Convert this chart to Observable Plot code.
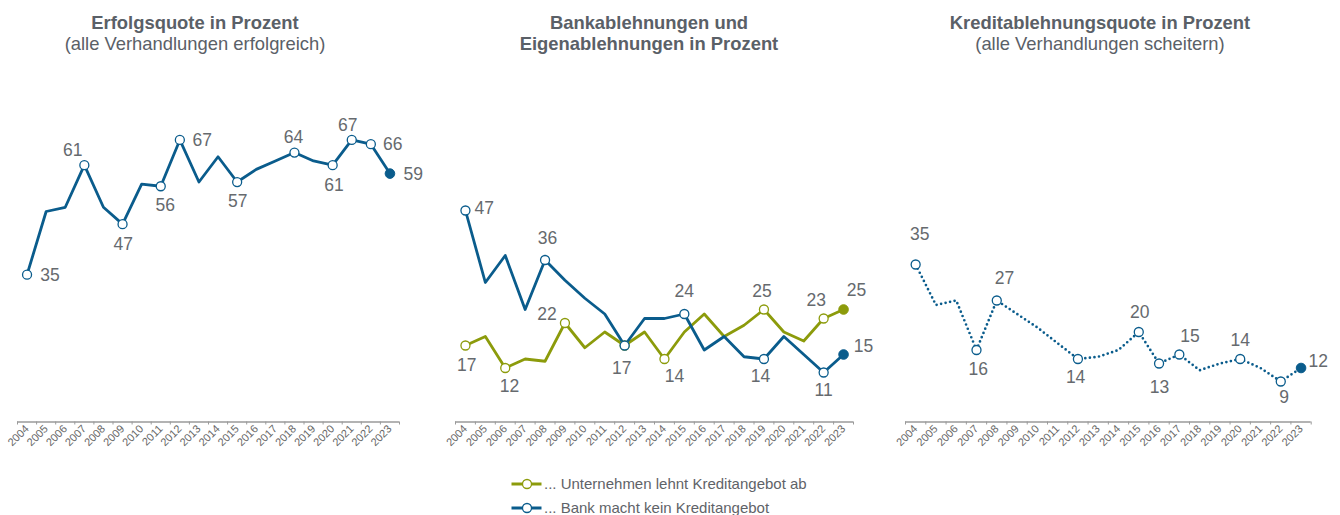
<!DOCTYPE html>
<html>
<head>
<meta charset="utf-8">
<script src="https://cdn.jsdelivr.net/npm/d3@7"></script>
<script src="https://cdn.jsdelivr.net/npm/@observablehq/plot@0.6"></script>
<style>
  body { margin: 0; background: #fff; font-family: "Liberation Sans", Arial, sans-serif; }
  #wrap { position: relative; width: 1340px; height: 515px; overflow: hidden; background: #fff; }
  .title { position: absolute; top: 12.4px; text-align: center; color: #5a6067; font-size: 18.4px; line-height: 21px; white-space: nowrap; transform: translateX(-50%); }
  .title b { font-weight: bold; }
  .panel { position: absolute; top: 0; }
  .legend { position: absolute; left: 511px; font-size: 15px; line-height: 16px; color: #5f6368; }
  .legend .row { position: absolute; left: 0; height: 16px; display: flex; align-items: center; white-space: nowrap; }
  .legend svg { display: block; margin-right: 2px; }
</style>
</head>
<body>
<div id="wrap">
  <div class="title" style="left:195px"><b>Erfolgsquote in Prozent</b><br>(alle Verhandlungen erfolgreich)</div>
  <div class="title" style="left:649px"><b>Bankablehnungen und<br>Eigenablehnungen in Prozent</b></div>
  <div class="title" style="left:1100px"><b>Kreditablehnungsquote in Prozent</b><br>(alle Verhandlungen scheitern)</div>
  <div class="panel" id="p1" style="left:0px"></div>
  <div class="panel" id="p2" style="left:440px"></div>
  <div class="panel" id="p3" style="left:890px"></div>
  <div class="legend" id="legend"></div>
</div>
<script>
// ---- data ----
const years = [2004,2005,2006,2007,2008,2009,2010,2011,2012,2013,2014,2015,2016,2017,2018,2019,2020,2021,2022,2023];

const erfolgsquote       = [35,50,51,61,51,47,56.5,56,67,57,63,57,60,62,64,62,61,67,66,59];
const unternehmenLehntAb = [17,19,12,14,13.5,22,16.5,20,17,20,14,20,24,19,21.5,25,20,18,23,25];
const bankKeinAngebot    = [47,31,37,25,36,31.5,27.5,24,17,23,23,24,16,19,14.5,14,19,15,11,15];
const ablehnungsquote    = [35,26,27,16,27,24,21,17.5,14,14.5,16,20,13,15,11.5,13,14,12,9,12];

const legendLabels = ["... Unternehmen lehnt Kreditangebot ab", "... Bank macht kein Kreditangebot"];

// labelled (marked) years per series, with label offsets [year, dx, dy]
const erfolgsLabels = [[2004,23,1],[2007,-11.5,-15],[2009,0.6,20.5],[2011,4.5,19.3],[2012,22.5,0.4],[2015,0.5,19.7],[2018,-1,-15.3],[2020,1.3,20],[2021,-4,-14.3],[2022,22,0],[2023,23.3,1]];
const bankLabels    = [[2004,18.8,-1.7],[2008,2.5,-21.3],[2012,-2.8,23.3],[2015,0,-22.7],[2019,-3.5,17.7],[2022,0,18],[2023,20,-8]];
const unternLabels  = [[2004,1.2,20],[2006,4.2,18.4],[2009,-18,-8.3],[2012,null,null],[2014,10,17.3],[2019,-2,-18.5],[2022,-7.3,-18],[2023,13,-19]];
const ablehnLabels  = [[2004,4.2,-29.7],[2007,1.8,19.3],[2008,7.7,-21.7],[2012,-2.3,18.7],[2015,1,-19.3],[2016,0.5,23.7],[2017,10.7,-18.2],[2020,0,-18.3],[2022,3.3,15.7],[2023,17.3,-6.3]];

const BLUE = "#0a5c8c";
const GREEN = "#8c9b0b";
const LABEL = "#666a6e";
const AXIS = "#9a9a9a";

function buildPanel(cfg) {
  const last = years[years.length - 1];
  const edges = years.map(y => y - 0.5).concat([last + 0.5]);
  const marks = [
    Plot.ruleY([0], {stroke: AXIS, strokeWidth: 1.3}),
    Plot.axisX(edges, {tickSize: 3, tickFormat: () => "", stroke: AXIS, label: null}),
    Plot.axisX(years, {tickSize: 0, tickRotate: -45, tickPadding: 5, tickFormat: d => String(d), fontSize: 11, fill: "#666", label: null})
  ];
  const sets = cfg.series.map(s => ({s, data: years.map((year, i) => ({year, value: s.values[i]}))}));
  for (const {s, data} of sets) {
    const opts = {x: "year", y: "value", stroke: s.color, strokeWidth: 2.8, strokeLinejoin: "round"};
    if (s.dotted) { opts.strokeDasharray = "0 4.6"; opts.strokeLinecap = "round"; opts.strokeWidth = 2.7; }
    marks.push(Plot.line(data, opts));
  }
  for (const {s, data} of sets) {
    const markedYears = s.labels.map(l => l[0]);
    const open = data.filter(d => markedYears.includes(d.year) && d.year !== last);
    const fin = data.filter(d => d.year === last);
    marks.push(Plot.dot(open, {x: "year", y: "value", r: 4.5, fill: "white", stroke: s.color, strokeWidth: 1.3}));
    marks.push(Plot.dot(fin, {x: "year", y: "value", r: 4.8, fill: s.color, stroke: s.color, strokeWidth: 1}));
    for (const [year, dx, dy] of s.labels) {
      if (dx === null) continue;
      marks.push(Plot.text(data.filter(d => d.year === year), {x: "year", y: "value", text: d => String(d.value),
        dx, dy, fontSize: 17.5, fill: LABEL, textAnchor: "middle"}));
    }
  }
  return Plot.plot({
    width: cfg.width, height: 470,
    marginLeft: cfg.ml, marginRight: cfg.mr, marginTop: 0, marginBottom: 48.5,
    x: {type: "linear", domain: [2003.5, 2023.5], label: null},
    y: {domain: [0, 100], range: [421.5, 421.5 - cfg.slope * 100], axis: null},
    style: {fontFamily: "Liberation Sans, Arial, sans-serif", background: "transparent", overflow: "visible"},
    marks
  });
}

document.getElementById("p1").append(buildPanel({width: 440, ml: 17, mr: 41, slope: 4.21,
  series: [{values: erfolgsquote, color: BLUE, labels: erfolgsLabels}]}));
document.getElementById("p2").append(buildPanel({width: 450, ml: 15, mr: 37, slope: 4.5,
  series: [{values: unternehmenLehntAb, color: GREEN, labels: unternLabels},
           {values: bankKeinAngebot, color: BLUE, labels: bankLabels}]}));
document.getElementById("p3").append(buildPanel({width: 450, ml: 15, mr: 29.3, slope: 4.5,
  series: [{values: ablehnungsquote, color: BLUE, labels: ablehnLabels, dotted: true}]}));

// legend
const legend = document.getElementById("legend");
[[legendLabels[0], GREEN, 475.5], [legendLabels[1], BLUE, 499.5]].forEach(([txt, col, top]) => {
  const row = document.createElement("div");
  row.className = "row";
  row.style.top = top + "px";
  row.innerHTML = `<svg width="31" height="16"><line x1="0.5" x2="30.5" y1="8" y2="8" stroke="${col}" stroke-width="3"/><circle cx="16" cy="8" r="4.5" fill="white" stroke="${col}" stroke-width="1.3"/></svg><span>${txt}</span>`;
  legend.append(row);
});
</script>
</body>
</html>
